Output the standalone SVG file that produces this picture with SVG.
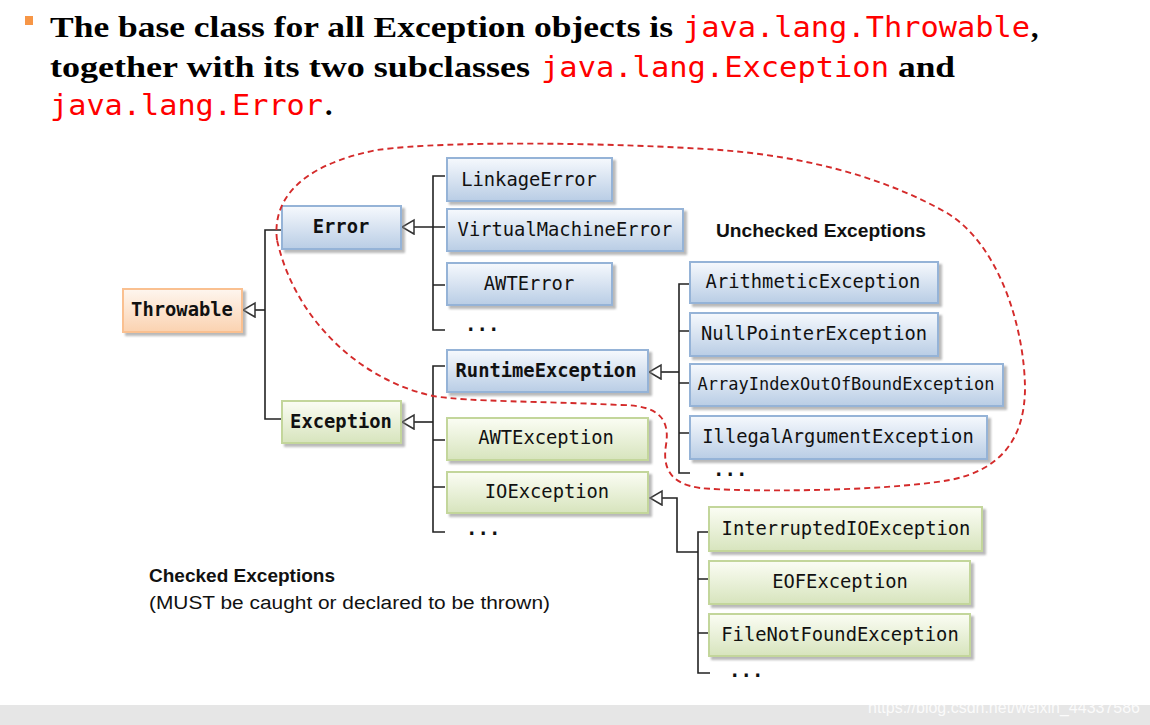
<svg xmlns="http://www.w3.org/2000/svg" width="1150" height="725" viewBox="0 0 1150 725">
<defs>
<linearGradient id="gBlue" x1="0" y1="0" x2="0" y2="1"><stop offset="0" stop-color="#f6f9fd"/><stop offset="1" stop-color="#b9cde5"/></linearGradient>
<linearGradient id="gGreen" x1="0" y1="0" x2="0" y2="1"><stop offset="0" stop-color="#fbfdf4"/><stop offset="1" stop-color="#d7e4bd"/></linearGradient>
<linearGradient id="gOrange" x1="0" y1="0" x2="0" y2="1"><stop offset="0" stop-color="#fef6ef"/><stop offset="1" stop-color="#fbd2b0"/></linearGradient>
<filter id="sh" x="-10%" y="-20%" width="130%" height="150%"><feDropShadow dx="3" dy="3" stdDeviation="1" flood-color="#808080" flood-opacity="0.55"/></filter>
<marker id="tri" markerUnits="userSpaceOnUse" markerWidth="16" markerHeight="18" refX="13" refY="8" orient="auto"><path d="M1,1 L13,8 L1,15 Z" fill="#fff" stroke="#333" stroke-width="1.5"/></marker>
</defs>
<style>
.title{font-family:"Liberation Serif",serif;font-weight:bold;font-size:30px;fill:#000}
.code{font-family:"DejaVu Sans Mono","Liberation Mono",monospace;font-size:29px;fill:#ff0000}
.blue{fill:url(#gBlue);stroke:#95b3d7;stroke-width:2;filter:url(#sh)}
.green{fill:url(#gGreen);stroke:#c3d69b;stroke-width:2;filter:url(#sh)}
.orange{fill:url(#gOrange);stroke:#fac090;stroke-width:2;filter:url(#sh)}
.lbl{font-family:"DejaVu Sans Mono","Liberation Mono",monospace;font-size:18.8px;fill:#111;text-anchor:middle}
.b{font-weight:bold}
.dots{font-family:"DejaVu Sans Mono","Liberation Mono",monospace;font-size:19px;font-weight:bold;fill:#111}
.con{fill:none;stroke:#222;stroke-width:1.6}
.note{font-family:"Liberation Sans",sans-serif;font-size:18px;fill:#111}
</style>
<rect width="1150" height="725" fill="#fff"/>
<rect x="25" y="16" width="8" height="9" fill="#f79646"/>
<text class="title" x="50" y="37" textLength="623" lengthAdjust="spacingAndGlyphs">The base class for all Exception objects is</text>
<text class="code" x="683" y="37" textLength="347" lengthAdjust="spacingAndGlyphs">java.lang.Throwable</text>
<text class="title" x="1031" y="37">,</text>
<text class="title" x="50" y="77" textLength="480" lengthAdjust="spacingAndGlyphs">together with its two subclasses</text>
<text class="code" x="541" y="77" textLength="348" lengthAdjust="spacingAndGlyphs">java.lang.Exception</text>
<text class="title" x="898" y="77" textLength="57" lengthAdjust="spacingAndGlyphs">and</text>
<text class="code" x="50" y="115" textLength="273" lengthAdjust="spacingAndGlyphs">java.lang.Error</text>
<text class="title" x="325" y="115">.</text>

<g id="connectors">
<path class="con" d="M282,230 H265 V419 H282"/>
<path class="con" d="M265,310 H243" marker-end="url(#tri)"/>
<path class="con" d="M445,176 H433 V330 H445 M433,285 H445"/>
<path class="con" d="M445,227 H402" marker-end="url(#tri)"/>
<path class="con" d="M445,366 H433 V532 H445 M433,440 H445 M433,487 H445"/>
<path class="con" d="M433,422 H402" marker-end="url(#tri)"/>
<path class="con" d="M690,284 H679 V473 H690 M679,331 H690 M679,383 H690 M679,433 H690"/>
<path class="con" d="M679,372 H649" marker-end="url(#tri)"/>
<path class="con" d="M710,532 H698 V673 H710 M698,579 H710 M698,633 H710"/>
<path class="con" d="M698,552 H677 V498 H650" marker-end="url(#tri)"/>
</g>

<g id="throwable"><rect class="orange" x="123" y="289" width="119" height="43"/><text class="lbl b" x="182" y="316">Throwable</text></g>
<g id="error"><rect class="blue" x="282" y="206" width="119" height="43"/><text class="lbl b" x="341" y="233">Error</text></g>
<g id="exception"><rect class="green" x="282" y="401" width="119" height="42"/><text class="lbl b" x="341" y="428">Exception</text></g>
<g id="linkageError"><rect class="blue" x="447" y="158" width="165" height="43"/><text class="lbl" x="529" y="186">LinkageError</text></g>
<g id="virtualMachineError"><rect class="blue" x="447" y="209" width="236" height="42"/><text class="lbl" x="565" y="236">VirtualMachineError</text></g>
<g id="awtError"><rect class="blue" x="447" y="263" width="165" height="42"/><text class="lbl" x="529" y="290">AWTError</text></g>
<g id="errorMore"><text class="dots" x="465" y="331">...</text></g>
<g id="runtimeException"><rect class="blue" x="447" y="350" width="201" height="42"/><text class="lbl b" x="546" y="377">RuntimeException</text></g>
<g id="awtException"><rect class="green" x="447" y="418" width="201" height="42"/><text class="lbl" x="546" y="444">AWTException</text></g>
<g id="ioException"><rect class="green" x="447" y="472" width="201" height="41"/><text class="lbl" x="547" y="498">IOException</text></g>
<g id="exceptionMore"><text class="dots" x="466" y="535">...</text></g>
<g id="arithmeticException"><rect class="blue" x="690" y="262" width="248" height="41"/><text class="lbl" x="813" y="288">ArithmeticException</text></g>
<g id="nullPointerException"><rect class="blue" x="690" y="313" width="248" height="43"/><text class="lbl" x="814" y="340">NullPointerException</text></g>
<g id="arrayIndexOutOfBoundException"><rect class="blue" x="690" y="364" width="313" height="42"/><text class="lbl" x="846" y="390" style="font-size:17px">ArrayIndexOutOfBoundException</text></g>
<g id="illegalArgumentException"><rect class="blue" x="690" y="416" width="297" height="43"/><text class="lbl" x="838" y="443">IllegalArgumentException</text></g>
<g id="runtimeMore"><text class="dots" x="713" y="476">...</text></g>
<g id="interruptedIOException"><rect class="green" x="709" y="507" width="273" height="44"/><text class="lbl" x="846" y="535">InterruptedIOException</text></g>
<g id="eofException"><rect class="green" x="709" y="561" width="261" height="43"/><text class="lbl" x="840" y="588">EOFException</text></g>
<g id="fileNotFoundException"><rect class="green" x="709" y="614" width="261" height="42"/><text class="lbl" x="840" y="641">FileNotFoundException</text></g>
<g id="ioMore"><text class="dots" x="729" y="677">...</text></g>

<g id="uncheckedRegion">
<path d="M277,240 C272,200 300,165 377,150 C450,140 620,143 720,150 C800,156 880,175 947,213 C1000,245 1025,330 1025,390 C1024,440 1000,470 950,480 C880,492 740,492 700,488 C672,484 662,470 666,445 C670,420 660,405 620,405 C540,401 470,402 433,396 C360,380 295,320 277,240 Z" fill="none" stroke="#d42a2a" stroke-width="1.9" stroke-dasharray="6 4"/>
<text class="note b" x="716" y="237" textLength="210" lengthAdjust="spacingAndGlyphs">Unchecked Exceptions</text>
</g>
<g id="checkedNote">
<text class="note b" x="149" y="582" textLength="186" lengthAdjust="spacingAndGlyphs">Checked Exceptions</text>
<text class="note" x="149" y="609" textLength="401" lengthAdjust="spacingAndGlyphs">(MUST be caught or declared to be thrown)</text>
</g>
<rect x="0" y="705" width="1150" height="20" fill="#e6e6e6"/>
<text x="868" y="713" font-family="Liberation Sans, sans-serif" font-size="16" fill="#ffffff" fill-opacity="0.85" textLength="272" lengthAdjust="spacingAndGlyphs">https://blog.csdn.net/weixin_44337586</text>
</svg>
